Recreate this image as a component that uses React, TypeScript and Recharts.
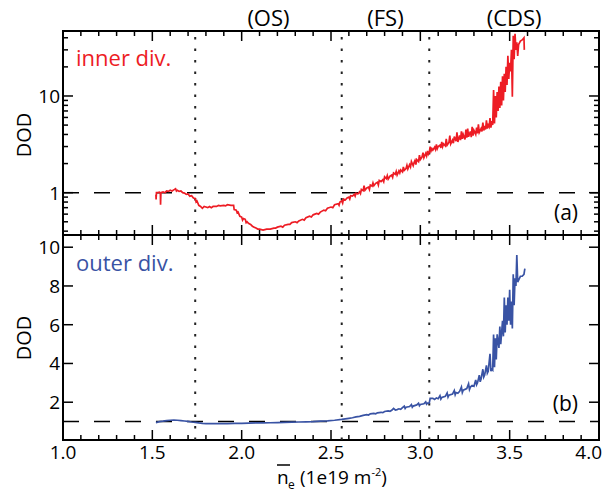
import React from "react";
import {
  LineChart,
  Line,
  XAxis,
  YAxis,
  ReferenceLine,
  ReferenceArea,
} from "recharts";

// plot frame, shared by both panels
const W = 602;
const H = 493;
const LEFT = 63;
const RIGHT = 599;
const TOP_A = 31;
const BOTTOM_A = 235;
const TOP_B = 235;
const BOTTOM_B = 440;
const AXIS_W = 50;
const AXIS_H = 20;

const FONT = "'Open Sans', sans-serif";
const RED = "#ed1c24";
const BLUE = "#3953a4";

const xTicks = [
  1.0, 1.1, 1.2, 1.3, 1.4, 1.5, 1.6, 1.7, 1.8, 1.9, 2.0, 2.1, 2.2, 2.3, 2.4, 2.5,
  2.6, 2.7, 2.8, 2.9, 3.0, 3.1, 3.2, 3.3, 3.4, 3.5, 3.6, 3.7, 3.8, 3.9, 4.0,
];
const xMajor = [1.0, 1.5, 2.0, 2.5, 3.0, 3.5, 4.0];
const logTicks = [
  0.4, 0.5, 0.6, 0.7, 0.8, 0.9, 1, 2, 3, 4, 5, 6, 7, 8, 9, 10, 20, 30, 40,
];
const logMajor = [1, 10];
const linTicks = [2, 4, 6, 8, 10];

// regime boundaries and names
const regimes = [
  { from: 1.74, to: 2.56, name: "(OS)" },
  { from: 2.56, to: 3.05, name: "(FS)" },
  { from: 3.05, to: 4.0, name: "(CDS)" },
];
const boundaries = [1.74, 2.56, 3.05];

// [ne, DOD] inner divertor
const innerDiv: [number, number][] = [
  [1.52, 0.95], [1.521, 0.85], [1.523, 1.0], [1.53, 1.0], [1.54, 1.01], [1.545, 0.98],
  [1.546, 0.75], [1.548, 1.0], [1.56, 1.02], [1.57, 1.0], [1.58, 1.04], [1.59, 1.03],
  [1.6, 1.06], [1.61, 1.04], [1.62, 1.07], [1.63, 1.1], [1.635, 1.04], [1.64, 1.06],
  [1.65, 1.03], [1.66, 1.04], [1.67, 1.0], [1.68, 0.99], [1.69, 0.96], [1.7, 0.97],
  [1.71, 0.92], [1.72, 0.93], [1.73, 0.88], [1.74, 0.87], [1.745, 0.8], [1.75, 0.82],
  [1.76, 0.74], [1.77, 0.72], [1.78, 0.69], [1.79, 0.72], [1.8, 0.71], [1.81, 0.7],
  [1.82, 0.72], [1.83, 0.7], [1.84, 0.72], [1.86, 0.72], [1.87, 0.74], [1.88, 0.73],
  [1.9, 0.74], [1.91, 0.73], [1.92, 0.75], [1.94, 0.74], [1.955, 0.74], [1.958, 0.67],
  [1.97, 0.66], [1.975, 0.62], [1.98, 0.63], [1.99, 0.57], [2.0, 0.56], [2.005, 0.52],
  [2.01, 0.54], [2.02, 0.53], [2.025, 0.49], [2.03, 0.5], [2.04, 0.48], [2.05, 0.47],
  [2.06, 0.45], [2.07, 0.44], [2.08, 0.43], [2.09, 0.42], [2.1, 0.42], [2.12, 0.41],
  [2.14, 0.42], [2.16, 0.42], [2.18, 0.43], [2.19, 0.43], [2.2, 0.44], [2.22, 0.45],
  [2.23, 0.44], [2.24, 0.46], [2.26, 0.47], [2.27, 0.47], [2.28, 0.49], [2.3, 0.5],
  [2.31, 0.49], [2.32, 0.51], [2.34, 0.53], [2.35, 0.52], [2.36, 0.55], [2.38, 0.57],
  [2.39, 0.56], [2.4, 0.59], [2.42, 0.61], [2.43, 0.6], [2.44, 0.63], [2.46, 0.66],
  [2.47, 0.65], [2.48, 0.69], [2.5, 0.71], [2.51, 0.7], [2.52, 0.75], [2.54, 0.77],
  [2.545, 0.74], [2.55, 0.8], [2.56, 0.82], [2.565, 0.78], [2.57, 0.86], [2.58, 0.84],
  [2.59, 0.88], [2.6, 0.9], [2.605, 0.86], [2.61, 0.93], [2.62, 0.92], [2.63, 0.96],
  [2.635, 0.92], [2.64, 0.99], [2.65, 0.97], [2.66, 1.02], [2.665, 0.98], [2.67, 1.08],
  [2.68, 1.05], [2.685, 1.18], [2.69, 1.06], [2.7, 1.12], [2.71, 1.14], [2.715, 1.08],
  [2.72, 1.2], [2.73, 1.17], [2.735, 1.26], [2.74, 1.18], [2.75, 1.25], [2.76, 1.28],
  [2.765, 1.2], [2.77, 1.34], [2.78, 1.3], [2.79, 1.36], [2.795, 1.3], [2.8, 1.46],
  [2.81, 1.4], [2.815, 1.5], [2.82, 1.38], [2.83, 1.48], [2.84, 1.52], [2.845, 1.44],
  [2.85, 1.6], [2.86, 1.55], [2.865, 1.66], [2.87, 1.52], [2.88, 1.68], [2.885, 1.6],
  [2.89, 1.72], [2.9, 1.64], [2.905, 1.85], [2.91, 1.7], [2.92, 1.78], [2.925, 1.92],
  [2.93, 1.76], [2.94, 1.95], [2.945, 1.85], [2.95, 2.1], [2.96, 1.9], [2.965, 2.05],
  [2.97, 2.15], [2.975, 1.95], [2.98, 2.2], [2.99, 2.1], [2.995, 2.45], [3.0, 2.2],
  [3.01, 2.35], [3.015, 2.6], [3.02, 2.3], [3.03, 2.55], [3.035, 2.4], [3.04, 2.7],
  [3.045, 2.5], [3.05, 2.6], [3.055, 3.0], [3.06, 2.7], [3.065, 2.85], [3.07, 2.75],
  [3.08, 2.95], [3.085, 2.8], [3.09, 3.15], [3.095, 2.85], [3.1, 3.0], [3.11, 3.1],
  [3.115, 2.9], [3.12, 3.35], [3.125, 3.0], [3.13, 3.2], [3.14, 3.05], [3.145, 3.6],
  [3.15, 3.1], [3.16, 3.3], [3.165, 3.9], [3.17, 3.2], [3.18, 3.5], [3.185, 3.25],
  [3.19, 3.8], [3.2, 3.4], [3.205, 4.2], [3.21, 3.35], [3.22, 3.9], [3.225, 3.5],
  [3.23, 4.3], [3.235, 3.6], [3.24, 4.0], [3.25, 3.55], [3.255, 4.5], [3.26, 3.7],
  [3.265, 4.6], [3.27, 3.8], [3.28, 4.3], [3.285, 3.75], [3.29, 4.8], [3.295, 3.9],
  [3.3, 4.4], [3.31, 4.0], [3.315, 4.7], [3.32, 4.1], [3.325, 5.1], [3.33, 4.2],
  [3.34, 4.6], [3.345, 4.3], [3.35, 5.3], [3.355, 4.4], [3.36, 4.9], [3.365, 4.5],
  [3.37, 5.6], [3.375, 4.6], [3.38, 5.0], [3.385, 4.8], [3.39, 5.9], [3.395, 4.7],
  [3.4, 5.5], [3.405, 5.0], [3.41, 11.5], [3.415, 5.2], [3.42, 10.0], [3.425, 6.0],
  [3.43, 11.0], [3.435, 7.0], [3.44, 12.5], [3.445, 7.5], [3.45, 14.0], [3.455, 8.0],
  [3.46, 16.0], [3.465, 9.0], [3.47, 17.0], [3.475, 11.0], [3.48, 20.0], [3.485, 13.0],
  [3.49, 26.0], [3.495, 15.0], [3.5, 22.0], [3.505, 18.0], [3.51, 30.0], [3.515, 9.8],
  [3.52, 42.0], [3.525, 24.0], [3.53, 44.0], [3.535, 30.0], [3.54, 36.0], [3.545, 26.0],
  [3.55, 34.0], [3.56, 37.0], [3.57, 38.0], [3.58, 40.0], [3.582, 30.0],
];

// [ne, DOD] outer divertor
const outerDiv: [number, number][] = [
  [1.52, 0.95], [1.54, 1.0], [1.56, 1.02], [1.58, 1.05], [1.6, 1.07], [1.62, 1.08],
  [1.64, 1.07], [1.66, 1.05], [1.68, 1.03], [1.7, 1.01], [1.72, 0.98], [1.74, 0.96],
  [1.76, 0.93], [1.78, 0.91], [1.8, 0.9], [1.84, 0.89], [1.88, 0.89], [1.92, 0.9],
  [1.96, 0.91], [2.0, 0.91], [2.04, 0.92], [2.08, 0.93], [2.12, 0.93], [2.16, 0.94],
  [2.2, 0.95], [2.24, 0.96], [2.28, 0.97], [2.32, 0.98], [2.36, 0.99], [2.4, 1.0],
  [2.44, 1.02], [2.48, 1.04], [2.52, 1.07], [2.56, 1.11], [2.6, 1.17], [2.62, 1.2],
  [2.64, 1.24], [2.66, 1.27], [2.68, 1.32], [2.7, 1.36], [2.71, 1.34], [2.72, 1.4],
  [2.74, 1.42], [2.75, 1.4], [2.76, 1.45], [2.78, 1.48], [2.79, 1.46], [2.8, 1.52],
  [2.82, 1.55], [2.83, 1.53], [2.84, 1.58], [2.85, 1.68], [2.86, 1.6], [2.87, 1.62],
  [2.88, 1.66], [2.89, 1.63], [2.9, 1.72], [2.91, 1.8], [2.915, 1.68], [2.92, 1.74],
  [2.94, 1.78], [2.95, 1.88], [2.955, 1.74], [2.96, 1.8], [2.98, 1.86], [2.99, 1.95],
  [2.995, 1.82], [3.0, 1.88], [3.02, 1.92], [3.03, 2.02], [3.035, 1.9], [3.04, 1.95],
  [3.05, 1.96], [3.055, 2.2], [3.07, 2.2], [3.08, 2.14], [3.09, 2.22], [3.1, 2.18],
  [3.11, 2.34], [3.115, 2.16], [3.12, 2.24], [3.14, 2.3], [3.15, 2.48], [3.155, 2.26],
  [3.16, 2.36], [3.18, 2.42], [3.19, 2.6], [3.195, 2.38], [3.2, 2.5], [3.21, 2.46],
  [3.22, 2.56], [3.23, 2.78], [3.235, 2.5], [3.24, 2.62], [3.26, 2.7], [3.27, 2.95],
  [3.275, 2.66], [3.28, 2.78], [3.29, 2.86], [3.3, 2.82], [3.31, 3.15], [3.315, 2.9],
  [3.32, 3.0], [3.33, 3.4], [3.335, 3.05], [3.34, 3.2], [3.35, 3.7], [3.355, 3.3],
  [3.36, 3.4], [3.37, 3.9], [3.375, 3.5], [3.38, 3.6], [3.39, 4.5], [3.395, 3.6],
  [3.4, 3.7], [3.405, 3.65], [3.41, 5.5], [3.415, 3.8], [3.42, 5.3], [3.425, 4.2],
  [3.43, 5.5], [3.44, 4.8], [3.445, 5.9], [3.45, 5.0], [3.46, 6.2], [3.465, 5.4],
  [3.47, 7.4], [3.475, 5.6], [3.48, 7.0], [3.485, 6.0], [3.49, 7.4], [3.495, 6.2],
  [3.5, 7.8], [3.505, 6.0], [3.51, 7.2], [3.515, 5.8], [3.52, 8.6], [3.525, 7.0],
  [3.53, 8.4], [3.535, 8.0], [3.54, 9.6], [3.545, 8.2], [3.55, 8.3], [3.56, 8.5],
  [3.57, 8.5], [3.58, 8.6], [3.585, 8.9],
];

const toRows = (pts: [number, number][]) => pts.map(([ne, dod]) => ({ ne, dod }));

const fmt = (v: number) => (Number.isInteger(v) ? String(v) : v.toFixed(1));

// inward ticks on both x edges of a panel; labels only under the lower panel
const makeXTick = (top: number, bottom: number, labels: boolean) => (props: any) => {
  const { x, payload } = props;
  const v = payload.value;
  const major = xMajor.some((m) => Math.abs(m - v) < 1e-6);
  const len = major ? 10 : 5;
  // keep the last label inside the page
  const last = x > W - 14;
  return (
    <g>
      <line x1={x} x2={x} y1={top} y2={top + len} stroke="#000" strokeWidth={1.5} />
      <line x1={x} x2={x} y1={bottom} y2={bottom - len} stroke="#000" strokeWidth={1.5} />
      {labels && major && (
        <text
          x={last ? W : x}
          y={bottom + 19}
          textAnchor={last ? "end" : "middle"}
          fontSize={19}
          fontFamily={FONT}
          fill="#000"
        >
          {v.toFixed(1)}
        </text>
      )}
    </g>
  );
};

// inward ticks on the left and right edges
const makeYTick = (majors: number[]) => (props: any) => {
  const { y, payload } = props;
  const v = payload.value;
  const major = majors.includes(v);
  const len = major ? 10 : 5;
  return (
    <g>
      <line x1={LEFT} x2={LEFT + len} y1={y} y2={y} stroke="#000" strokeWidth={1.5} />
      <line x1={RIGHT - len} x2={RIGHT} y1={y} y2={y} stroke="#000" strokeWidth={1.5} />
      {major && (
        <text x={LEFT - 3} y={y + 7} textAnchor="end" fontSize={19} fontFamily={FONT} fill="#000">
          {fmt(v)}
        </text>
      )}
    </g>
  );
};

const dodLabel = (cy: number) => () => (
  <text
    x={0}
    y={0}
    transform={`translate(31, ${cy}) rotate(-90)`}
    textAnchor="middle"
    fontSize={20}
    fontFamily={FONT}
    fill="#000"
  >
    DOD
  </text>
);

const panelText = (name: string, color: string, nameY: number, tag: string, tagY: number) => () => (
  <g fontFamily={FONT}>
    <text x={76} y={nameY} fontSize={22} fill={color}>
      {name}
    </text>
    <text x={578} y={tagY} textAnchor="end" fontSize={21} fill="#000">
      {tag}
    </text>
  </g>
);

const regimeLabel = (name: string) => (props: any) => {
  const vb = props.viewBox;
  return (
    <text x={vb.x + vb.width / 2} y={26} textAnchor="middle" fontSize={22} fontFamily={FONT} fill="#000">
      {name}
    </text>
  );
};

// n-bar sub e, (1e19 m^-2)
const neTitle = () => (
  <g fontFamily={FONT} fill="#000">
    <line x1={277} x2={290} y1={465} y2={465} stroke="#000" strokeWidth={1.5} />
    <text x={277} y={484} fontSize={19}>
      n
    </text>
    <text x={288} y={489} fontSize={12}>
      e
    </text>
    <text x={300} y={484} fontSize={19}>
      (1e19 m
      <tspan fontSize={11} dy={-8}>
        -2
      </tspan>
      <tspan dy={8}>)</tspan>
    </text>
  </g>
);

const logDomain: [number, number] = [0.365, 47];
const linDomain: [number, number] = [0.05, 10.63];

export default function App() {
  const inner = toRows(innerDiv);
  const outer = toRows(outerDiv);
  const box: React.CSSProperties = { position: "absolute", left: 0, top: 0 };

  return (
    <div style={{ position: "absolute", left: 0, top: 0, width: W, height: H, background: "#fff" }}>
      <div style={box}>
        <LineChart
          width={W}
          height={H}
          margin={{ top: TOP_A, right: W - RIGHT, bottom: H - BOTTOM_A - AXIS_H, left: LEFT - AXIS_W }}
        >
          <XAxis
            dataKey="ne"
            type="number"
            domain={[1, 4]}
            ticks={xTicks}
            interval={0}
            allowDataOverflow
            height={AXIS_H}
            axisLine={false}
            tickLine={false}
            tick={makeXTick(TOP_A, BOTTOM_A, false)}
          />
          <YAxis
            dataKey="dod"
            type="number"
            scale="log"
            domain={logDomain}
            ticks={logTicks}
            interval={0}
            allowDataOverflow
            width={AXIS_W}
            axisLine={false}
            tickLine={false}
            tick={makeYTick(logMajor)}
            label={{ content: dodLabel(135) }}
          />
          <ReferenceArea
            x1={1}
            x2={4}
            y1={logDomain[0]}
            y2={logDomain[1]}
            fill="none"
            stroke="#000"
            strokeWidth={2}
            label={{ content: panelText("inner div.", RED, 66, "(a)", 220) }}
          />
          {regimes.map((r) => (
            <ReferenceArea
              key={r.name}
              x1={r.from}
              x2={r.to}
              y1={logDomain[0]}
              y2={logDomain[1]}
              fill="none"
              stroke="none"
              label={{ content: regimeLabel(r.name) }}
            />
          ))}
          <ReferenceLine y={1} stroke="#000" strokeWidth={1.5} strokeDasharray="16 15" />
          {boundaries.map((b) => (
            <ReferenceLine key={b} x={b} stroke="#222" strokeWidth={2} strokeDasharray="2.5 9" />
          ))}
          <Line
            data={inner}
            dataKey="dod"
            type="linear"
            stroke={RED}
            strokeWidth={1.7}
            dot={false}
            isAnimationActive={false}
          />
        </LineChart>
      </div>

      <div style={box}>
        <LineChart
          width={W}
          height={H}
          margin={{ top: TOP_B, right: W - RIGHT, bottom: H - BOTTOM_B - AXIS_H, left: LEFT - AXIS_W }}
        >
          <XAxis
            dataKey="ne"
            type="number"
            domain={[1, 4]}
            ticks={xTicks}
            interval={0}
            allowDataOverflow
            height={AXIS_H}
            axisLine={false}
            tickLine={false}
            tick={makeXTick(TOP_B, BOTTOM_B, true)}
            label={{ content: neTitle }}
          />
          <YAxis
            dataKey="dod"
            type="number"
            domain={linDomain}
            ticks={linTicks}
            interval={0}
            allowDataOverflow
            width={AXIS_W}
            axisLine={false}
            tickLine={false}
            tick={makeYTick(linTicks)}
            label={{ content: dodLabel(338) }}
          />
          <ReferenceArea
            x1={1}
            x2={4}
            y1={linDomain[0]}
            y2={linDomain[1]}
            fill="none"
            stroke="#000"
            strokeWidth={2}
            label={{ content: panelText("outer div.", BLUE, 271, "(b)", 411) }}
          />
          <ReferenceLine y={1} stroke="#000" strokeWidth={1.5} strokeDasharray="16 15" />
          {boundaries.map((b) => (
            <ReferenceLine key={b} x={b} stroke="#222" strokeWidth={2} strokeDasharray="2.5 9" />
          ))}
          <Line
            data={outer}
            dataKey="dod"
            type="linear"
            stroke={BLUE}
            strokeWidth={1.7}
            dot={false}
            isAnimationActive={false}
          />
        </LineChart>
      </div>
    </div>
  );
}
